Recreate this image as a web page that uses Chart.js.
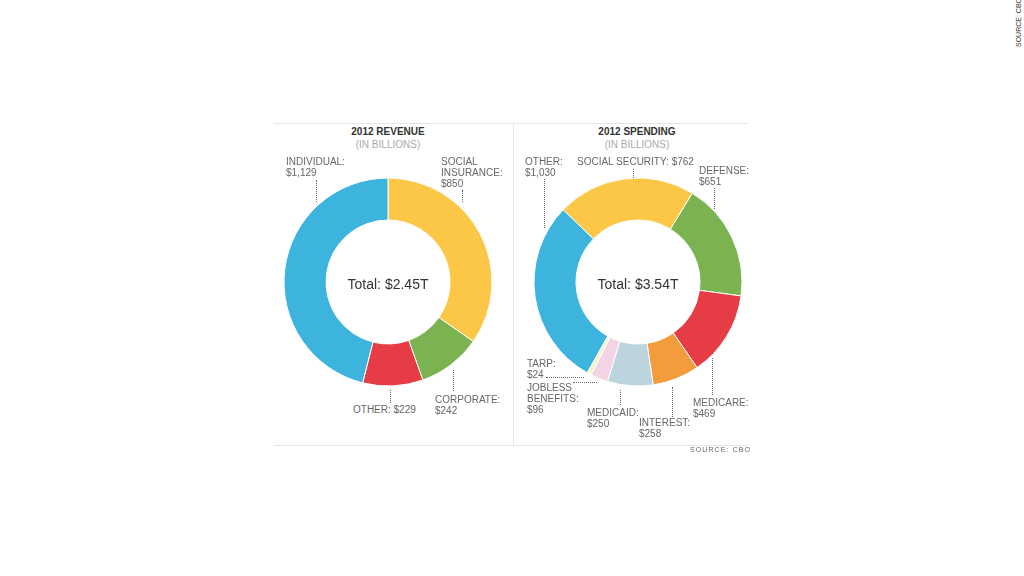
<!DOCTYPE html>
<html>
<head>
<meta charset="utf-8">
<script src="https://cdn.jsdelivr.net/npm/chart.js@4"></script>
<style>
  html, body { margin: 0; padding: 0; background: #fff; }
  body { width: 1024px; height: 576px; position: relative; overflow: hidden;
         font-family: "Liberation Sans", Arial, sans-serif; }
  .panel-line { position: absolute; background: #e6e6e6; }
  .title { position: absolute; width: 238px; text-align: center; font-size: 10px;
           font-weight: bold; color: #333; }
  .subtitle { position: absolute; width: 238px; text-align: center; font-size: 10px; color: #aaa; }
  .lbl { position: absolute; font-size: 10px; line-height: 11px; color: #666; white-space: nowrap; }
  .vline { position: absolute; width: 0; border-left: 1px dotted #666; }
  .hline { position: absolute; height: 0; border-top: 1px dotted #666; }
  .chart-box { position: absolute; width: 240px; height: 240px; }
  .source { position: absolute; font-size: 7px; letter-spacing: 1.1px; color: #666; }
  .source-rot { position: absolute; font-size: 7px; color: #333; transform: rotate(-90deg);
                transform-origin: left top; white-space: nowrap; }
</style>
</head>
<body>

<div class="panel-line" style="left:274px; top:123px; width:474px; height:1px;"></div>
<div class="panel-line" style="left:274px; top:445px; width:474px; height:1px;"></div>
<div class="panel-line" style="left:513px; top:123px; width:1px; height:322px;"></div>

<div class="title" style="left:269px; top:126px;">2012 REVENUE</div>
<div class="subtitle" style="left:269px; top:139px;">(IN BILLIONS)</div>
<div class="title" style="left:518px; top:126px;">2012 SPENDING</div>
<div class="subtitle" style="left:518px; top:139px;">(IN BILLIONS)</div>

<div class="chart-box" style="left:268px; top:162px;"><canvas id="revenue"></canvas></div>
<div class="chart-box" style="left:518px; top:162px;"><canvas id="spending"></canvas></div>

<!-- revenue labels -->
<div class="lbl" style="left:286px; top:156px;">INDIVIDUAL:<br>$1,129</div>
<div class="vline" style="left:316px; top:180px; height:22px;"></div>
<div class="lbl" style="left:441px; top:156px;">SOCIAL<br>INSURANCE:<br>$850</div>
<div class="vline" style="left:462px; top:190px; height:12px;"></div>
<div class="lbl" style="left:353px; top:404px;">OTHER: $229</div>
<div class="vline" style="left:390px; top:390px; height:13px;"></div>
<div class="lbl" style="left:435px; top:394px;">CORPORATE:<br>$242</div>
<div class="vline" style="left:453px; top:370px; height:21px;"></div>

<!-- spending labels -->
<div class="lbl" style="left:525px; top:156px;">OTHER:<br>$1,030</div>
<div class="vline" style="left:544px; top:179px; height:49px;"></div>
<div class="lbl" style="left:577px; top:156px;">SOCIAL SECURITY: $762</div>
<div class="vline" style="left:633px; top:169px; height:9px;"></div>
<div class="lbl" style="left:699px; top:165px;">DEFENSE:<br>$651</div>
<div class="vline" style="left:714px; top:188px; height:21px;"></div>
<div class="lbl" style="left:527px; top:358px;">TARP:<br>$24</div>
<div class="hline" style="left:546px; top:377px; width:38px;"></div>
<div class="lbl" style="left:527px; top:382px;">JOBLESS<br>BENEFITS:<br>$96</div>
<div class="hline" style="left:573px; top:382px; width:24px;"></div>
<div class="lbl" style="left:587px; top:407px;">MEDICAID:<br>$250</div>
<div class="vline" style="left:620px; top:390px; height:15px;"></div>
<div class="lbl" style="left:639px; top:417px;">INTEREST:<br>$258</div>
<div class="vline" style="left:672px; top:387px; height:30px;"></div>
<div class="lbl" style="left:693px; top:397px;">MEDICARE:<br>$469</div>
<div class="vline" style="left:712px; top:358px; height:37px;"></div>

<div class="source" style="left:690px; top:446px;">SOURCE: CBO</div>
<div class="source-rot" style="left:1015px; top:47px;">SOURCE: CBO</div>

<script>
// Revenue, 2012, in billions (clockwise from 12 o'clock)
const revenueLabels = ['Social insurance', 'Corporate', 'Other', 'Individual'];
const revenueValues = [850, 242, 229, 1129];
const revenueColors = ['#fcc646', '#7bb351', '#e63c45', '#3cb4de'];
const revenueTotal = 'Total: $2.45T';

// Spending, 2012, in billions
const spendingLabels = ['Social Security', 'Defense', 'Medicare', 'Interest', 'Medicaid',
                        'Jobless benefits', 'TARP', 'Other'];
const spendingValues = [762, 651, 469, 258, 250, 96, 24, 1030];
const spendingColors = ['#fcc646', '#7bb351', '#e63c45', '#f39b3d', '#bcd4de',
                        '#f3d4e4', '#f7f3c6', '#3cb4de'];
const spendingTotal = 'Total: $3.54T';

// draws the total in the hole of the ring
const centerText = {
  id: 'centerText',
  afterDatasetsDraw(chart, args, opts) {
    const arc = chart.getDatasetMeta(0).data[0];
    if (!arc) return;
    const ctx = chart.ctx;
    ctx.save();
    ctx.font = '14px "Liberation Sans", Arial, sans-serif';
    ctx.fillStyle = '#333';
    ctx.textAlign = 'center';
    ctx.textBaseline = 'middle';
    ctx.fillText(opts.text, arc.x, arc.y + 3);
    ctx.restore();
  }
};

function makeDonut(id, labels, values, colors, total, rotation) {
  return new Chart(document.getElementById(id), {
    type: 'doughnut',
    data: {
      labels: labels,
      datasets: [{
        data: values,
        backgroundColor: colors,
        borderColor: '#ffffff',
        borderWidth: 1
      }]
    },
    options: {
      responsive: true,
      maintainAspectRatio: false,
      animation: false,
      rotation: rotation,
      radius: 104,
      cutout: '59.6%',
      layout: { padding: 0 },
      plugins: {
        legend: { display: false },
        tooltip: { enabled: false },
        centerText: { text: total }
      }
    },
    plugins: [centerText]
  });
}

makeDonut('revenue', revenueLabels, revenueValues, revenueColors, revenueTotal, 0);
makeDonut('spending', spendingLabels, spendingValues, spendingColors, spendingTotal, -46);
</script>
</body>
</html>
